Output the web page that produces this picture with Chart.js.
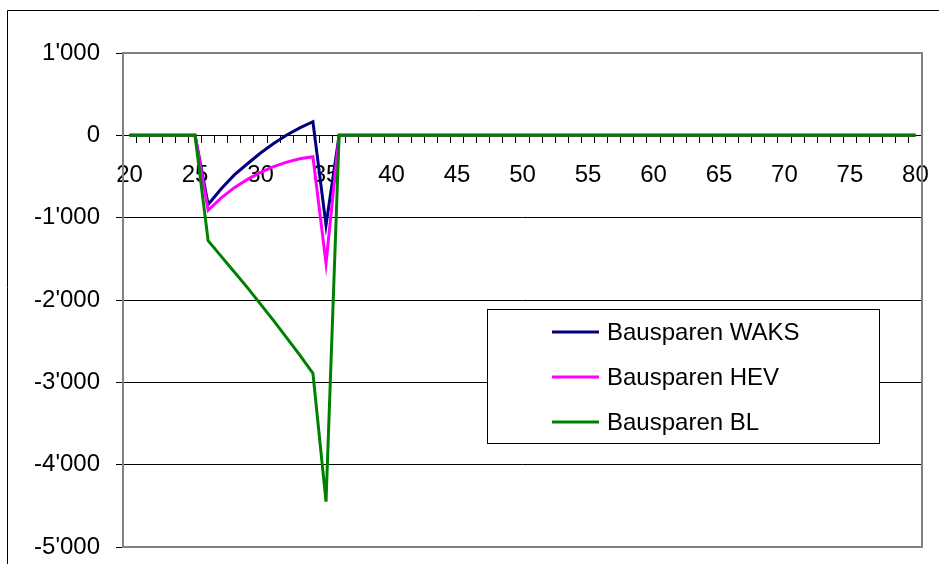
<!DOCTYPE html>
<html>
<head>
<meta charset="utf-8">
<script src="https://cdn.jsdelivr.net/npm/chart.js@4/dist/chart.umd.min.js"></script>
<style>
  html, body { margin: 0; padding: 0; background: #fff; }
  canvas { display: block; }
</style>
</head>
<body>
<canvas id="grafico" width="939" height="564"></canvas>
<script>
// Alter (Kategorien)
const alter = [
    20, 21, 22, 23, 24, 25, 26, 27, 28, 29,
    30, 31, 32, 33, 34, 35, 36, 37, 38, 39,
    40, 41, 42, 43, 44, 45, 46, 47, 48, 49,
    50, 51, 52, 53, 54, 55, 56, 57, 58, 59,
    60, 61, 62, 63, 64, 65, 66, 67, 68, 69,
    70, 71, 72, 73, 74, 75, 76, 77, 78, 79,
    80
];

const bausparenWAKS = [
    0, 0, 0, 0, 0, 0,
    -840, -650, -480, -345, -215, -100, 5, 90, 165, -1090,
    0, 0, 0, 0, 0, 0, 0, 0, 0, 0, 0, 0, 0, 0, 0,
    0, 0, 0, 0, 0, 0, 0, 0, 0, 0, 0, 0, 0, 0, 0,
    0, 0, 0, 0, 0, 0, 0, 0, 0, 0, 0, 0, 0, 0, 0
];

const bausparenHEV = [
    0, 0, 0, 0, 0, 0,
    -910, -760, -635, -535, -450, -380, -325, -285, -260, -1555,
    0, 0, 0, 0, 0, 0, 0, 0, 0, 0, 0, 0, 0, 0, 0,
    0, 0, 0, 0, 0, 0, 0, 0, 0, 0, 0, 0, 0, 0, 0,
    0, 0, 0, 0, 0, 0, 0, 0, 0, 0, 0, 0, 0, 0, 0
];

const bausparenBL = [
    0, 0, 0, 0, 0, 0,
    -1280, -1470, -1660, -1850, -2050, -2250, -2460, -2670, -2890, -4450,
    0, 0, 0, 0, 0, 0, 0, 0, 0, 0, 0, 0, 0, 0, 0,
    0, 0, 0, 0, 0, 0, 0, 0, 0, 0, 0, 0, 0, 0, 0,
    0, 0, 0, 0, 0, 0, 0, 0, 0, 0, 0, 0, 0, 0, 0
];

const yMin = -5000;
const yMax = 1000;
const yStep = 1000;

const schrift = "'Liberation Sans', Arial, sans-serif";

// 1'000 Format (Schweizer Tausendertrennzeichen)
function formatZahl(v) {
    const s = Math.abs(v).toString().replace(/\B(?=(\d{3})+(?!\d))/g, "'");
    return (v < 0 ? "-" : "") + s;
}

// Rahmen ums Diagramm, Plotbereich-Rand und Legende im Plot
const rahmenPlugin = {
    id: "rahmen",
    beforeDraw(chart) {
        const c = chart.ctx;
        c.save();
        c.strokeStyle = "#000";
        c.lineWidth = 1;
        c.beginPath();
        c.moveTo(7.5, chart.height);
        c.lineTo(7.5, 10.5);
        c.lineTo(chart.width, 10.5);
        c.stroke();
        c.restore();
    },
    afterDatasetsDraw(chart) {
        const c = chart.ctx;
        const a = chart.chartArea;
        c.save();
        c.strokeStyle = "#808080";
        c.lineWidth = 2;
        c.strokeRect(a.left, a.top, a.right - a.left, a.bottom - a.top);
        c.restore();
    },
    afterDraw(chart) {
        const c = chart.ctx;
        const box = { x: 487.5, y: 309.5, w: 392, h: 134 };
        c.save();
        c.fillStyle = "#fff";
        c.fillRect(box.x, box.y, box.w, box.h);
        c.strokeStyle = "#000";
        c.lineWidth = 1;
        c.strokeRect(box.x, box.y, box.w, box.h);
        c.font = "24px " + schrift;
        c.textBaseline = "middle";
        c.textAlign = "left";
        chart.data.datasets.forEach((ds, i) => {
            const y = 332 + i * 45;
            c.strokeStyle = ds.borderColor;
            c.lineWidth = 3;
            c.beginPath();
            c.moveTo(552, y);
            c.lineTo(599, y);
            c.stroke();
            c.fillStyle = "#000";
            c.fillText(ds.label, 607, y + 1);
        });
        c.restore();
    }
};

new Chart(document.getElementById("grafico"), {
    type: "line",
    data: {
        labels: alter,
        datasets: [
            { label: "Bausparen WAKS", data: bausparenWAKS, borderColor: "#000080", order: 2 },
            { label: "Bausparen HEV", data: bausparenHEV, borderColor: "#FF00FF", order: 1 },
            { label: "Bausparen BL", data: bausparenBL, borderColor: "#008000", order: 0 }
        ]
    },
    options: {
        responsive: false,
        animation: false,
        devicePixelRatio: 1,
        layout: { padding: { left: 0, top: 53, right: 17, bottom: 17 } },
        elements: {
            line: { borderWidth: 3, tension: 0, fill: false },
            point: { radius: 0, hoverRadius: 0 }
        },
        plugins: {
            legend: { display: false },
            tooltip: { enabled: false }
        },
        scales: {
            x: {
                type: "category",
                position: { y: 0 },
                offset: true,
                afterFit(scale) {
                    scale.paddingLeft = 0;
                    scale.paddingRight = 0;
                },
                grid: {
                    offset: true,
                    drawOnChartArea: false,
                    drawTicks: true,
                    tickLength: 7,
                    color: "#000"
                },
                border: { display: true, color: "#000", width: 1 },
                ticks: {
                    autoSkip: false,
                    maxRotation: 0,
                    padding: 19,
                    color: "#000",
                    font: { family: schrift, size: 24 },
                    callback(value) {
                        const a = alter[value];
                        return (a - 20) % 5 === 0 ? String(a) : "";
                    }
                }
            },
            y: {
                min: yMin,
                max: yMax,
                afterFit(scale) {
                    scale.width = 123;
                    scale.paddingTop = 0;
                    scale.paddingBottom = 0;
                },
                grid: {
                    color: "#000",
                    lineWidth: 1,
                    tickLength: 7
                },
                border: { display: false },
                ticks: {
                    stepSize: yStep,
                    padding: 16,
                    color: "#000",
                    font: { family: schrift, size: 24 },
                    callback: (v) => formatZahl(v)
                }
            }
        }
    },
    plugins: [rahmenPlugin]
});
</script>
</body>
</html>
